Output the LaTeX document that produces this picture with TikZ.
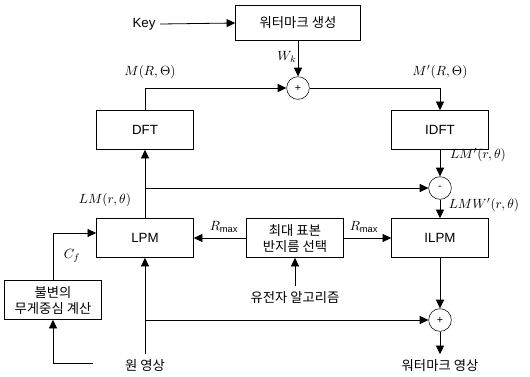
\documentclass[tikz,border=0pt]{standalone}
\usepackage{fontspec}
\setmainfont{Liberation Sans}
\newfontfamily\kor{Noto Sans CJK KR}
\usetikzlibrary{arrows.meta, positioning}

\begin{document}
\begin{tikzpicture}[
    x=0.75pt, y=-0.75pt,
    box/.style={rectangle, draw, minimum width=72.75pt, minimum height=29.25pt,
                align=center, font=\normalsize},
    kbox/.style={box, font=\kor\normalsize, inner sep=1pt},
    sum/.style={circle, draw, minimum size=17pt, inner sep=0pt, font=\footnotesize},
    txt/.style={font=\kor\normalsize},
    arrow/.style={-{Triangle[length=6.5pt, width=6pt]}, semithick}
]
\useasboundingbox (0,0) rectangle (530,376);

\node[kbox, minimum width=93.75pt, minimum height=26.25pt] (wm) at (298,23) {워터마크 생성};
\node (key) at (144,24) {Key};
\node[sum] (add) at (298,88) {+};
\node[box] (dft) at (145,130) {DFT};
\node[box] (idft) at (440,130) {IDFT};
\node[sum] (sub) at (440,188) {-};
\node[box] (lpm) at (145,238) {LPM};
\node[kbox] (sel) at (295,238) {최대 표본\\반지름 선택};
\node[box] (ilpm) at (440,238) {ILPM};
\node[kbox] (cen) at (53,300) {불변의\\무게중심 계산};
\node[sum] (out) at (440,320) {+};
\node[txt] (ga) at (295,297) {유전자 알고리즘};
\node[txt] (src) at (145,365) {원 영상};
\node[txt] (res) at (440,365) {워터마크 영상};
\coordinate (srcl) at (93,363);

% signal labels
\node (m) at (150,72) {$M(R,\Theta)$};
\node (mp) at (440,72) {$M'(R,\Theta)$};
\node (wk) at (287,57) {$W_k$};
\node (lmp) at (478,155) {$LM'(r,\theta)$};
\node (lm) at (105,200) {$LM(r,\theta)$};
\node (lmw) at (484,205) {$LMW'(r,\theta)$};
\node (rl) at (224,227) {$R_{\max}$};
\node (rr) at (364,227) {$R_{\max}$};
\node (cf) at (72,256) {$C_f$};

\draw[arrow] (key.east) -- (wm.west);
\draw[arrow] (wm.south) -- (add.north);
\draw[arrow] (dft.north) |- (add.west);
\draw[arrow] (add.east) -| (idft.north);
\draw[arrow] (idft.south) -- (sub.north);
\draw[arrow] (lpm.north) -- (dft.south);
\draw[arrow] (dft.south |- sub) -- (sub.west);
\draw[arrow] (sub.south) -- (ilpm.north);
\draw[arrow] (sel.west) -- (lpm.east);
\draw[arrow] (sel.east) -- (ilpm.west);
\draw[arrow] (ga.north) -- (sel.south);
\draw[arrow] (cen.north) |- ([yshift=3.75pt]lpm.west);
\draw[arrow] (srcl) -| (cen.south);
\draw[arrow] (src.north) -- (lpm.south);
\draw[arrow] (lpm.south |- out) -- (out.west);
\draw[arrow] (ilpm.south) -- (out.north);
\draw[arrow] (out.south) -- (res.north);

\end{tikzpicture}
\end{document}
